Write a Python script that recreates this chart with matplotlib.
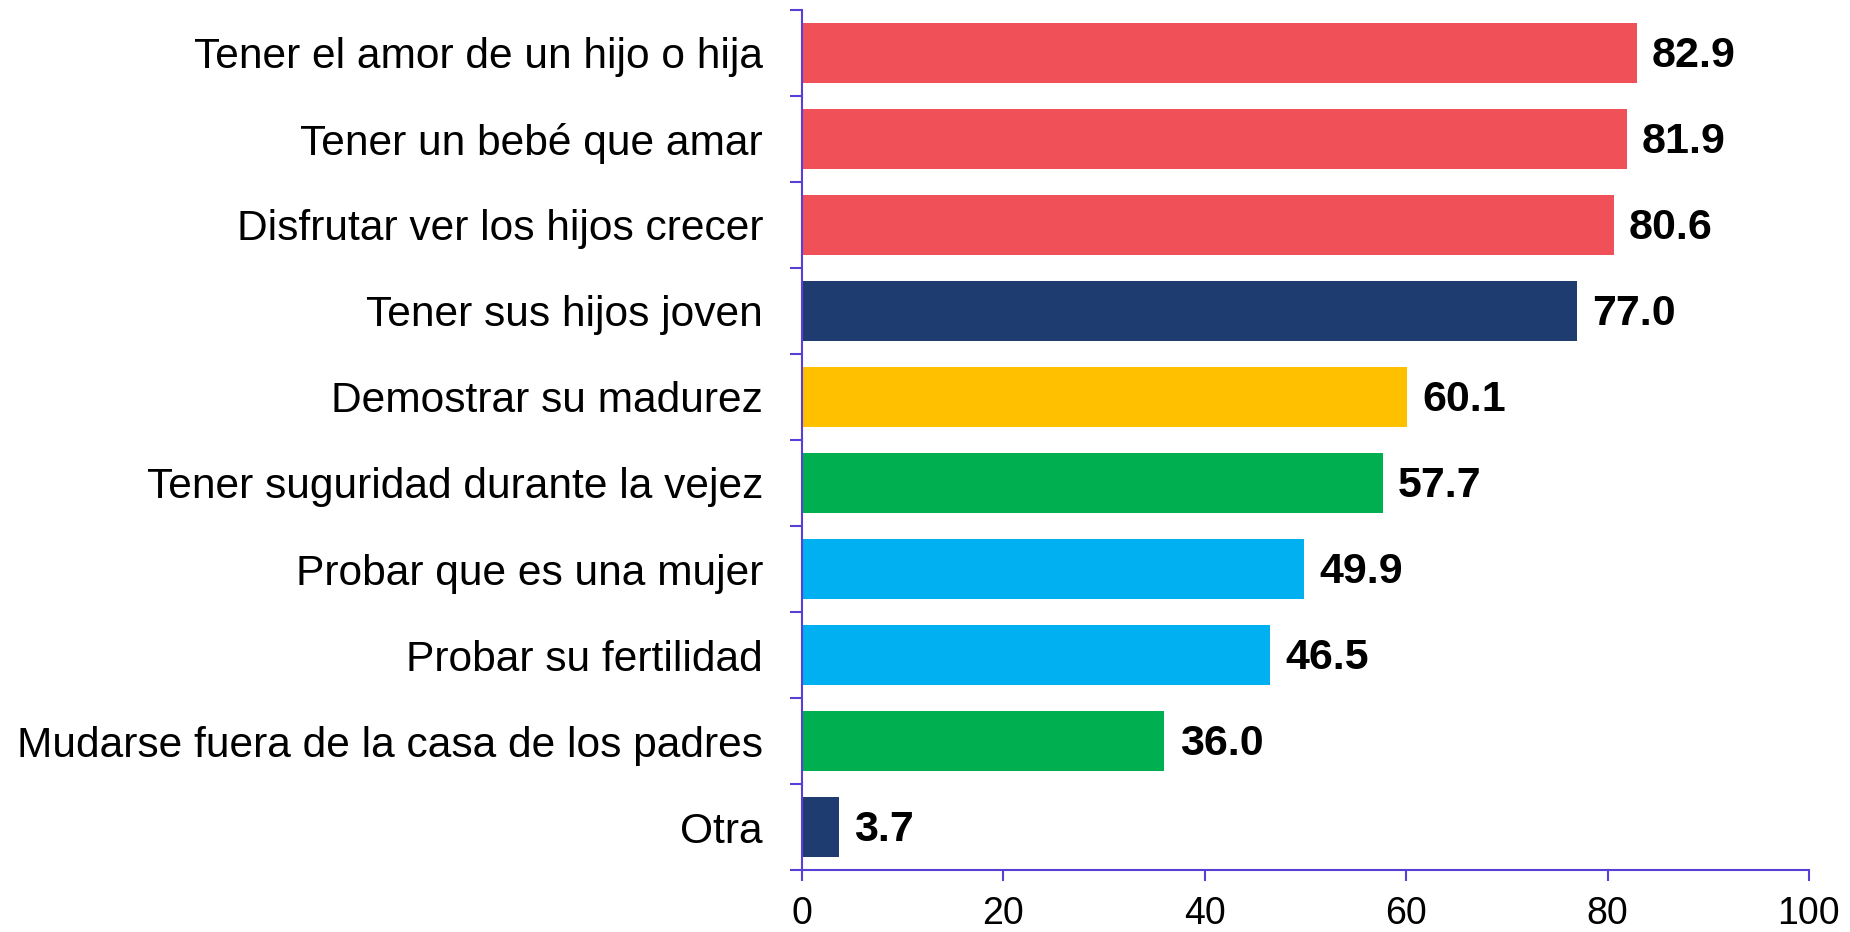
import matplotlib
matplotlib.use("Agg")
import matplotlib.pyplot as plt
import numpy as np

categories = [
    "Tener el amor de un hijo o hija",
    "Tener un bebé que amar",
    "Disfrutar ver los hijos crecer",
    "Tener sus hijos joven",
    "Demostrar su madurez",
    "Tener suguridad durante la vejez",
    "Probar que es una mujer",
    "Probar su fertilidad",
    "Mudarse fuera de la casa de los padres",
    "Otra",
]
values = [82.9, 81.9, 80.6, 77.0, 60.1, 57.7, 49.9, 46.5, 36.0, 3.7]
colors = ["#F05057", "#F05057", "#F05057", "#1F3C70", "#FFC000",
          "#00B050", "#00B0F0", "#00B0F0", "#00B050", "#1F3C70"]
xticks = [0, 20, 40, 60, 80, 100]

plt.rcParams['font.family'] = ['Liberation Sans', 'DejaVu Sans']
axis_color = "#5A3FD6"

fig = plt.figure(figsize=(18.5, 9.32), dpi=100)
ax = fig.add_axes([0.4335, 0.0665, 0.9778 - 0.4335, 0.9893 - 0.0665])

y = np.arange(len(categories))
ax.barh(y, values, height=0.69, color=colors)
for yi, v in zip(y, values):
    ax.text(v + 1.5, yi + 0.03, f"{v:.1f}", va="center", ha="left",
            fontsize=31, fontweight="bold", color="black")

ax.set_ylim(len(categories) - 0.5, -0.5)
ax.set_xlim(0, 100)
ax.set_xticks(xticks)
ax.set_xticklabels([str(t) for t in xticks], fontsize=27)

ax.set_yticks(np.arange(-0.5, len(categories), 1.0))
ax.set_yticklabels([])
ax.set_yticks(y, minor=True)
ax.set_yticklabels(categories, minor=True, fontsize=30.65)
ax.tick_params(axis="y", which="minor", length=0, pad=28)
ax.tick_params(axis="y", which="major", length=9, width=1.5, color=axis_color, direction="out")
ax.tick_params(axis="x", which="major", length=8, width=1.5, color=axis_color, direction="out", pad=11)

for s in ["top", "right"]:
    ax.spines[s].set_visible(False)
for s in ["left", "bottom"]:
    ax.spines[s].set_color(axis_color)
    ax.spines[s].set_linewidth(1.5)

fig.savefig("out.png", dpi=100, facecolor="white")
